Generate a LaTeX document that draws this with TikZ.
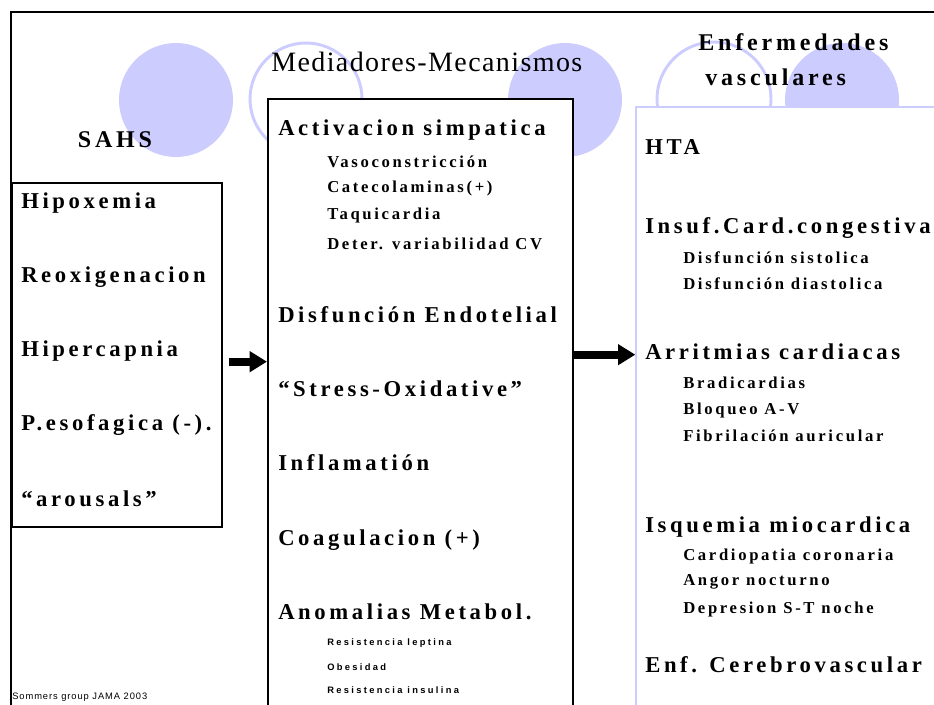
\documentclass[tikz,border=0pt]{standalone}
\usepackage{fontspec}
\setmainfont{Liberation Serif}
\newfontfamily\spacedserif[LetterSpace=16]{Liberation Serif}
\newfontfamily\titleserif[LetterSpace=5]{Liberation Serif}
\newfontfamily\spacedsans[LetterSpace=25]{Liberation Sans}
\newfontfamily\refsans[LetterSpace=10]{Liberation Sans}
\usepackage{tikz}
\usetikzlibrary{arrows.meta, positioning, fit, calc}
\definecolor{Lavender}{RGB}{204, 204, 255}

\begin{document}
\begin{tikzpicture}[x=0.75pt, y=-0.75pt,
    coltitle/.style={font=\spacedserif\bfseries\fontsize{18}{20}\selectfont, inner sep=0pt, anchor=west},
    heading/.style={font=\spacedserif\bfseries\fontsize{17}{19}\selectfont, inner sep=0pt, anchor=west},
    subitem/.style={font=\spacedserif\bfseries\fontsize{12.5}{14}\selectfont, inner sep=0pt, anchor=west},
    smallitem/.style={font=\spacedsans\bfseries\fontsize{7}{8}\selectfont, inner sep=0pt, anchor=west},
    bigarrow/.style={line width=6pt, -{Triangle[length=13pt, width=15pt]}}]
    \useasboundingbox (0,0) rectangle (934,704);
    \clip (0,0) rectangle (934,704);

    % Background circles
    \fill[Lavender] (176,100) circle[radius=57];
    \draw[Lavender, line width=2.2pt] (306,99) circle[radius=56];
    \fill[Lavender] (565,100) circle[radius=57];
    \draw[Lavender, line width=2.2pt] (714,99) circle[radius=57];
    \fill[Lavender] (842,100) circle[radius=57];

    % Frame
    \draw[line width=1.6pt] (11,720) -- (11,12) -- (950,12);

    % Boxes
    \node[fit={(12,183) (222,527)}, inner sep=0pt, draw, line width=1pt, fill=white] (sahs) {};
    \node[fit={(268,99) (573,730)}, inner sep=0pt, draw, line width=1.5pt, fill=white] (mid) {};
    \node[fit={(636,107) (960,730)}, inner sep=0pt, draw=Lavender, line width=1pt, fill=white] (disease) {};

    % Titles
    \node[coltitle, anchor=center] (sahstitle) at (115,140) {SAHS};
    \node[font=\titleserif\fontsize{21}{23}\selectfont, inner sep=0pt, anchor=west] (midtitle) at (271,62) {Mediadores-Mecanismos};
    \node[coltitle] (distitle) at (698,42) {Enfermedades};
    \node[coltitle] (distitle2) at (705,77) {vasculares};

    % SAHS
    \node[heading] (hipox) at (21,203) {Hipoxemia};
    \node[heading] (reox) at (21,277) {Reoxigenacion};
    \node[heading] (hiperc) at (21,351) {Hipercapnia};
    \node[heading] (pesof) at (21,425) {P.esofagica (-).};
    \node[heading] (arous) at (21,499) {“arousals”};
    \node[font=\refsans\fontsize{7}{8}\selectfont, inner sep=0pt, anchor=west] (ref) at (12,697) {Sommers group JAMA 2003};

    % Mediadores
    \node[heading] (activ) at (278,130) {Activacion simpatica};
    \node[subitem] (vaso) at (327,162) {Vasoconstricción};
    \node[subitem] (catec) at (327,188) {Catecolaminas(+)};
    \node[subitem] (taqui) at (327,215) {Taquicardia};
    \node[subitem] (deter) at (327,244) {Deter. variabilidad CV};
    \node[heading] (endot) at (278,315) {Disfunción Endotelial};
    \node[heading] (stress) at (278,389) {“Stress-Oxidative”};
    \node[heading] (infl) at (278,463) {Inflamatión};
    \node[heading] (coag) at (278,540) {Coagulacion (+)};
    \node[heading] (metab) at (278,612) {Anomalias Metabol.};
    \node[smallitem] (lept) at (327,643) {Resistencia leptina};
    \node[smallitem] (obes) at (327,667) {Obesidad};
    \node[smallitem] (insul) at (327,690) {Resistencia insulina};

    % Enfermedades
    \node[heading] (hta) at (645,147) {HTA};
    \node[heading] (insuf) at (645,228) {Insuf.Card.congestiva};
    \node[subitem] (sist) at (683,258) {Disfunción sistolica};
    \node[subitem] (diast) at (683,284) {Disfunción diastolica};
    \node[heading] (arrit) at (645,352) {Arritmias cardiacas};
    \node[subitem] (brad) at (683,383) {Bradicardias};
    \node[subitem] (bloq) at (683,410) {Bloqueo A-V};
    \node[subitem] (fibr) at (683,436) {Fibrilación auricular};
    \node[heading] (isq) at (645,527) {Isquemia miocardica};
    \node[subitem] (cardio) at (683,556) {Cardiopatia coronaria};
    \node[subitem] (angor) at (683,582) {Angor nocturno};
    \node[subitem] (depr) at (683,609) {Depresion S-T noche};
    \node[heading] (cerebro) at (645,665) {Enf. Cerebrovascular};

    % Arrows
    \draw[bigarrow] ([xshift=4.5pt, yshift=-5pt]sahs.east) -- ([yshift=-5pt]mid.west |- sahs.east);
    \draw[bigarrow] ([yshift=-2pt]mid.east |- arrit.west) -- ([yshift=-2pt]disease.west |- arrit.west);
\end{tikzpicture}
\end{document}
